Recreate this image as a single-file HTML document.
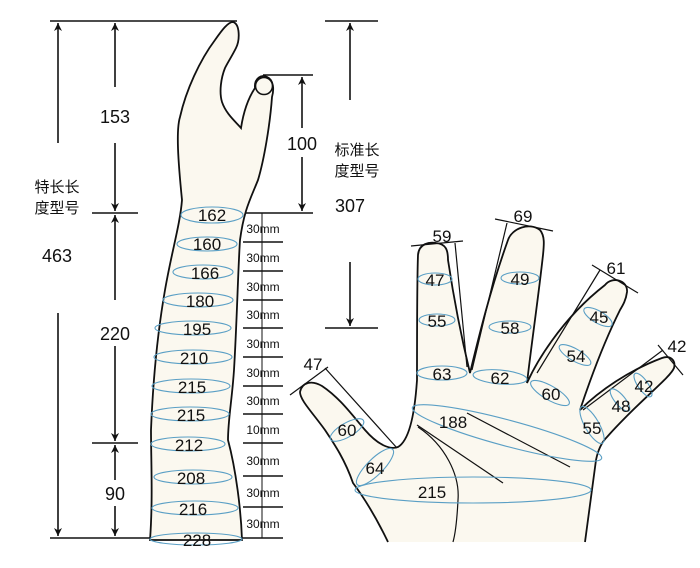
<!DOCTYPE html>
<html><head><meta charset="utf-8"><style>
html,body{margin:0;padding:0;background:#fff;}
svg{display:block;}
text{font-family:"Liberation Sans","Noto Sans CJK SC",sans-serif;fill:#111;}
</style></head><body>
<svg width="700" height="568" viewBox="0 0 700 568" xmlns="http://www.w3.org/2000/svg">
<defs>
<marker id="a" viewBox="0 0 10 10" refX="10" refY="5" markerWidth="8" markerHeight="10" orient="auto-start-reverse" markerUnits="userSpaceOnUse"><path d="M0,0 L10,5 L0,10 L3,5 z" fill="#111"/></marker>
</defs>
<g stroke="#111" stroke-width="1.6" fill="none">
<line x1="50" y1="21" x2="237" y2="21"/>
<line x1="58" y1="143" x2="58" y2="23" marker-end="url(#a)"/>
<line x1="58" y1="313" x2="58" y2="536" marker-end="url(#a)"/>
<line x1="115" y1="87" x2="115" y2="23" marker-end="url(#a)"/>
<line x1="115" y1="143" x2="115" y2="211" marker-end="url(#a)"/>
<line x1="92" y1="213" x2="138" y2="213"/>
<line x1="115" y1="300" x2="115" y2="215" marker-end="url(#a)"/>
<line x1="115" y1="346" x2="115" y2="441" marker-end="url(#a)"/>
<line x1="92" y1="443" x2="138" y2="443"/>
<line x1="115" y1="480" x2="115" y2="445" marker-end="url(#a)"/>
<line x1="115" y1="506" x2="115" y2="536" marker-end="url(#a)"/>
<line x1="50" y1="538" x2="283" y2="538"/>
<line x1="325" y1="21" x2="378" y2="21"/>
<line x1="350" y1="100" x2="350" y2="23" marker-end="url(#a)"/>
<line x1="263" y1="75" x2="313" y2="75"/>
<line x1="302" y1="128" x2="302" y2="77" marker-end="url(#a)"/>
<line x1="302" y1="157" x2="302" y2="211" marker-end="url(#a)"/>
<line x1="243" y1="213" x2="313" y2="213"/>
<line x1="350" y1="262" x2="350" y2="326" marker-end="url(#a)"/>
<line x1="325" y1="328" x2="378" y2="328"/>
<line x1="262" y1="213" x2="262" y2="538" stroke-width="1"/>
<g stroke-width="1.4">
<line x1="243" y1="242" x2="283" y2="242"/><line x1="243" y1="271" x2="283" y2="271"/>
<line x1="243" y1="300" x2="283" y2="300"/><line x1="243" y1="328" x2="283" y2="328"/>
<line x1="243" y1="357" x2="283" y2="357"/><line x1="243" y1="386" x2="283" y2="386"/>
<line x1="243" y1="414" x2="283" y2="414"/><line x1="243" y1="443" x2="283" y2="443"/>
<line x1="243" y1="476" x2="283" y2="476"/><line x1="243" y1="507" x2="283" y2="507"/>
</g>
</g>
<path d="M233,22 C240,24 240,40 236,48 C232,56 228,62 225,68 C221,78 219,92 222,102 C226,114 236,122 241,128 C243,115 247,100 255,88 C254,78 262,74 267,77 C274,80 274,90 272,97 C270,125 264,160 258,180 C250,200 244,210 240,240 C238,270 237,320 234,370 C232,400 228,420 228,440 C236,470 241,510 242,540 L150,540 C153,500 151,460 151,430 C153,380 158,330 165,290 C172,250 180,225 182,200 C178,160 176,130 180,117 C186,90 200,60 215,40 C222,30 228,22 233,22 Z" fill="#fbf8ef" stroke="#111" stroke-width="1.8"/>
<circle cx="264" cy="86" r="8.5" fill="#fbf8ef" stroke="#111" stroke-width="1.6"/>
<g fill="none" stroke="#5a9fc5" stroke-width="1.1">
<ellipse cx="212" cy="215" rx="31" ry="8"/><ellipse cx="207" cy="244" rx="30" ry="7"/>
<ellipse cx="203" cy="272" rx="30" ry="7"/><ellipse cx="198" cy="300" rx="35" ry="7"/>
<ellipse cx="193" cy="328" rx="38" ry="7"/><ellipse cx="193" cy="357" rx="39" ry="7"/>
<ellipse cx="191" cy="386" rx="39" ry="7"/><ellipse cx="190" cy="414" rx="39" ry="7"/>
<ellipse cx="188" cy="444" rx="37" ry="7"/><ellipse cx="193" cy="477" rx="39" ry="7"/>
<ellipse cx="195" cy="508" rx="43" ry="7"/><ellipse cx="196" cy="539" rx="46" ry="6"/>
</g>
<g font-size="17" text-anchor="middle">
<text x="212" y="221">162</text><text x="207" y="250">160</text><text x="205" y="279">166</text>
<text x="200" y="307">180</text><text x="197" y="335">195</text><text x="194" y="364">210</text>
<text x="192" y="393">215</text><text x="191" y="421">215</text><text x="189" y="451">212</text>
<text x="191" y="484">208</text><text x="193" y="515">216</text><text x="197" y="546">228</text>
</g>
<g font-size="12" text-anchor="middle">
<text x="263" y="233">30mm</text><text x="263" y="262">30mm</text><text x="263" y="291">30mm</text>
<text x="263" y="319">30mm</text><text x="263" y="348">30mm</text><text x="263" y="377">30mm</text>
<text x="263" y="405">30mm</text><text x="263" y="434">10mm</text><text x="263" y="465">30mm</text>
<text x="263" y="497">30mm</text><text x="263" y="528">30mm</text>
</g>
<g font-size="18" text-anchor="middle">
<text x="115" y="123">153</text><text x="115" y="340">220</text><text x="115" y="500">90</text>
<text x="57" y="262">463</text><text x="302" y="150">100</text><text x="350" y="212">307</text>
</g>
<g font-size="15" text-anchor="middle">
<text x="57" y="192">特长长</text><text x="57" y="213">度型号</text>
<text x="357" y="155">标准长</text><text x="357" y="176">度型号</text>
</g>
<!-- hand -->
<path d="M388,542 C375,515 362,495 353,483 C345,460 335,445 325,430 C312,412 300,400 300,392 C302,382 312,380 322,386 C340,398 352,415 365,430 C378,445 390,450 398,447 C410,440 415,410 417,380 C417,330 417,280 418,255 C419,243 430,242 436,243 C446,244 448,250 448,260 C454,300 462,340 470,373 C478,340 490,290 508,240 C512,228 530,222 540,230 C545,236 544,245 543,255 C538,300 532,340 527,383 C535,365 560,320 605,285 C612,276 628,280 627,292 C626,300 623,305 620,310 C605,340 590,380 580,410 C600,390 630,370 662,358 C670,355 676,360 674,368 C670,378 640,400 607,437 C602,442 598,450 596,460 C592,490 588,520 585,542" fill="#fbf8ef" stroke="#111" stroke-width="1.8"/>
<g stroke="#111" stroke-width="1.2" fill="none">
<line x1="417" y1="425" x2="503" y2="483"/>
<line x1="467" y1="413" x2="570" y2="467"/>
<path d="M418,427 C445,445 460,475 458,500 C457,520 455,535 453,542"/>
<line x1="411" y1="246" x2="463" y2="241"/><line x1="455" y1="243" x2="467" y2="367"/>
<line x1="495" y1="219" x2="553" y2="231"/><line x1="507" y1="223" x2="472" y2="370"/>
<line x1="592" y1="265" x2="638" y2="293"/><line x1="600" y1="270" x2="537" y2="373"/>
<line x1="658" y1="345" x2="683" y2="375"/><line x1="663" y1="350" x2="583" y2="410"/>
<line x1="290" y1="395" x2="328" y2="367"/><line x1="325" y1="368" x2="397" y2="448"/>
</g>
<g fill="none" stroke="#5a9fc5" stroke-width="1.1">
<ellipse cx="435" cy="279" rx="17" ry="6"/><ellipse cx="437" cy="320" rx="18" ry="6"/>
<ellipse cx="442" cy="373" rx="25" ry="7"/><ellipse cx="520" cy="278" rx="19" ry="6"/>
<ellipse cx="510" cy="327" rx="21" ry="6"/><ellipse cx="500" cy="377" rx="27" ry="7" transform="rotate(5 500 377)"/>
<ellipse cx="598" cy="317" rx="16" ry="6" transform="rotate(30 598 317)"/>
<ellipse cx="575" cy="355" rx="18" ry="6" transform="rotate(30 575 355)"/>
<ellipse cx="550" cy="393" rx="22" ry="7" transform="rotate(30 550 393)"/>
<ellipse cx="643" cy="385" rx="14" ry="5" transform="rotate(55 643 385)"/>
<ellipse cx="620" cy="400" rx="14" ry="5" transform="rotate(50 620 400)"/>
<ellipse cx="592" cy="425" rx="21" ry="7" transform="rotate(60 592 425)"/>
<ellipse cx="347" cy="430" rx="19" ry="7" transform="rotate(-30 347 430)"/>
<ellipse cx="375" cy="467" rx="25" ry="8" transform="rotate(-45 375 467)"/>
<ellipse cx="507" cy="433" rx="98" ry="13" transform="rotate(15 507 433)"/>
<ellipse cx="473" cy="490" rx="118" ry="13"/>
</g>
<g font-size="17" text-anchor="middle">
<text x="435" y="286">47</text><text x="437" y="327">55</text><text x="442" y="380">63</text>
<text x="520" y="285">49</text><text x="510" y="334">58</text><text x="500" y="384">62</text>
<text x="599" y="323">45</text><text x="576" y="362">54</text><text x="551" y="400">60</text>
<text x="644" y="392">42</text><text x="621" y="412">48</text><text x="592" y="434">55</text>
<text x="347" y="436">60</text><text x="375" y="474">64</text>
<text x="453" y="428">188</text><text x="432" y="498">215</text>
<text x="442" y="242">59</text><text x="523" y="222">69</text><text x="616" y="274">61</text>
<text x="677" y="352">42</text><text x="313" y="370">47</text>
</g>
</svg>
</body></html>
